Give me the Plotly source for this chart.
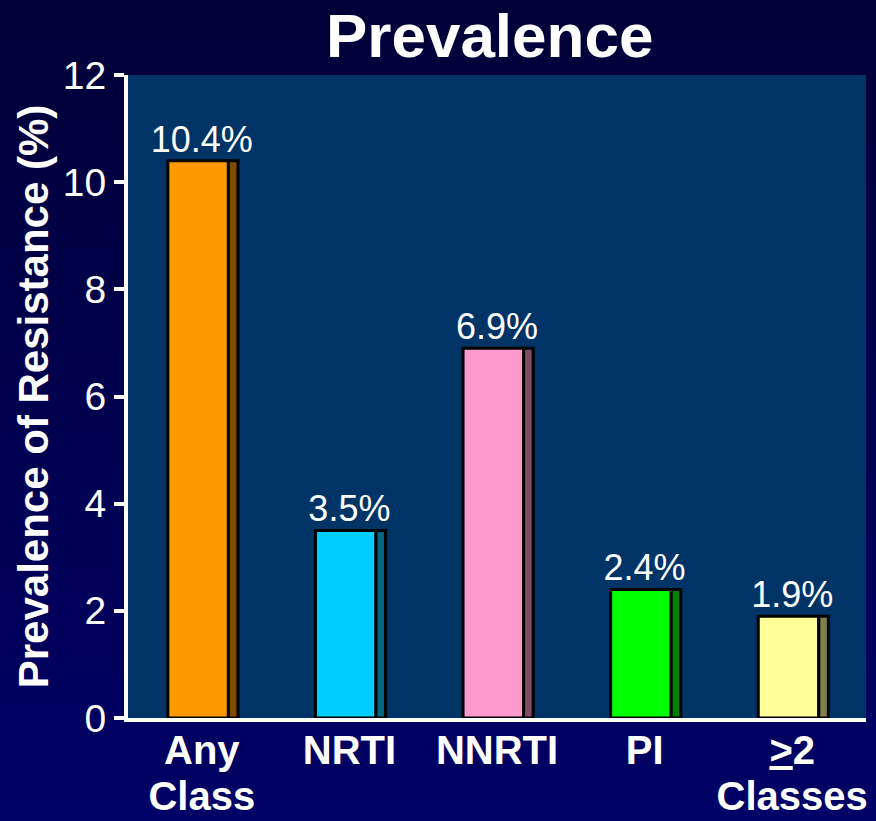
import plotly.graph_objects as go

categories = ["Any<br>Class", "NRTI", "NNRTI", "PI", "<u>&gt;</u>2<br>Classes"]
values = [10.4, 3.5, 6.9, 2.4, 1.9]
labels = ["10.4%", "3.5%", "6.9%", "2.4%", "1.9%"]
front_colors = ["#FF9900", "#00CCFF", "#FF99CC", "#00FF00", "#FFFF99"]
side_colors = ["#804C00", "#006680", "#804C66", "#008000", "#80804C"]
y_ticks = [0, 2, 4, 6, 8, 10, 12]

W, H = 876, 821
ml, mr, mt, mb = 128, 10, 75, 103
FONT = "Liberation Sans, Arial, sans-serif"

fig = go.Figure()
fig.add_trace(go.Bar(
    x=categories, y=values, offset=-0.23, width=0.41,
    marker=dict(color=front_colors, line=dict(color="black", width=3)),
    showlegend=False, hoverinfo="skip"))
fig.add_trace(go.Bar(
    x=categories, y=values, offset=0.18, width=0.065,
    marker=dict(color=side_colors, line=dict(color="black", width=3)),
    showlegend=False, hoverinfo="skip"))
fig.add_trace(go.Scatter(
    x=categories, y=values, mode="text", text=labels,
    textposition="top center",
    textfont=dict(color="white", size=36, family=FONT),
    showlegend=False, hoverinfo="skip"))

# gradient background bands (paper coords, extended beyond plot)
shapes = []
n = 40
pw = W - ml - mr
ph = H - mt - mb
x0 = -ml / pw - 0.01
x1 = 1 + mr / pw + 0.01
ytop = 1 + mt / ph
ybot = -mb / ph
for i in range(n):
    t = i / (n - 1)
    b = int(56 + (102 - 56) * t)
    ya = ytop - (ytop - ybot) * i / n
    yb = ytop - (ytop - ybot) * (i + 1) / n
    shapes.append(dict(type="rect", xref="paper", yref="paper",
                       x0=x0, x1=x1, y0=yb - 0.01 * (i == n - 1),
                       y1=ya + 0.002 + 0.01 * (i == 0),
                       fillcolor=f"rgb(0,0,{b})", line=dict(width=0),
                       layer="below"))
shapes.append(dict(type="rect", xref="paper", yref="paper",
                   x0=0, x1=1, y0=0, y1=1,
                   fillcolor="#003366", line=dict(width=0), layer="below"))

fig.update_layout(
    width=W, height=H,
    margin=dict(l=ml, r=mr, t=mt, b=mb, autoexpand=False),
    paper_bgcolor="#000050",
    plot_bgcolor="rgba(0,0,0,0)",
    barmode="overlay",
    shapes=shapes,
    title=dict(text="<b>Prevalence</b>", x=0.559, xanchor="center",
               y=0.957, yanchor="middle",
               font=dict(color="white", size=62, family=FONT)),
    font=dict(family=FONT, color="white"),
    xaxis=dict(showgrid=False, zeroline=False, showline=True,
               linecolor="white", linewidth=4, ticks="", automargin=False,
               tickfont=dict(size=35, color="white", family=FONT),
               tickprefix="<span style='font-size:40px'><b>",
               ticksuffix="</b></span>"),
    yaxis=dict(range=[0, 12], tickvals=y_ticks, showgrid=False,
               zeroline=False, showline=True, linecolor="white",
               linewidth=4, ticks="outside", ticklen=10, tickwidth=4,
               tickcolor="white", automargin=False,
               tickfont=dict(size=39, color="white", family=FONT),
               title=dict(text="<b>Prevalence of Resistance (%)</b>",
                          font=dict(size=42, color="white", family=FONT),
                          standoff=2)),
)

fig.write_html("out.html", config={"displayModeBar": False},
               post_script="document.body.style.margin='0';document.body.style.overflow='hidden';")
